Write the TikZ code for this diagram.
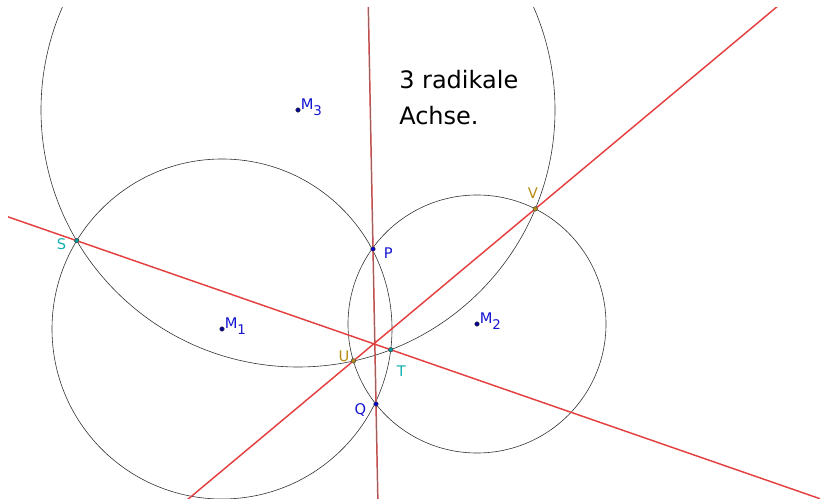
\documentclass[tikz,border=0pt]{standalone}
\usepackage{fontspec}
\setmainfont{DejaVu Sans}
\usepackage{xcolor}
\usepackage{tikz}
\usetikzlibrary{calc}

\definecolor{axisred}{RGB}{228,64,64}
\definecolor{ptblue}{RGB}{0,0,150}
\definecolor{lblblue}{RGB}{20,20,210}
\definecolor{lblteal}{RGB}{20,175,175}
\definecolor{lblgold}{RGB}{184,140,20}

\newcommand{\idx}[1]{\raisebox{-0.4em}{\fontsize{10}{12}\selectfont #1}}

\begin{document}
\begin{tikzpicture}[x=0.75pt, y=-0.75pt,
    circ/.style={draw=black!80, line width=0.45pt},
    axis/.style={draw=axisred, line width=1.1pt},
    pt/.style={circle, inner sep=0pt, minimum size=3.3pt, draw=black!70, line width=0.3pt, fill=#1},
    lbl/.style={inner sep=0pt, font=\fontsize{11}{13}\selectfont, text=#1}]
    \useasboundingbox (0,0) rectangle (824,502);
    \clip (8,8) rectangle (820,498);

    % centres
    \node [pt=ptblue] (M1) at (222,329) {};
    \node [pt=ptblue] (M2) at (477,324) {};
    \node [pt=ptblue] (M3) at (298,110) {};

    % circles
    \draw[circ] (M1) circle [radius=127.5pt];
    \draw[circ] (M2) circle [radius=96.75pt];
    \draw[circ] (M3) circle [radius=192.75pt];

    % intersection points
    \node [pt=blue!80!black] (P) at (373,249) {};
    \node [pt=blue!80!black] (Q) at (376,404) {};
    \node [pt=teal!80!cyan] (S) at (76.7,240.7) {};
    \node [pt=teal!80!cyan] (T) at (390.7,349.7) {};
    \node [pt=lblgold] (U) at (353.4,360.9) {};
    \node [pt=lblgold] (V) at (535.2,208.9) {};

    % radical axes
    \draw[axis] ($(P)!-1.6!(Q)$) -- ($(P)!1.65!(Q)$);
    \draw[black!55, line width=0.4pt] ($(P)!-1.6!(Q)$) -- ($(P)!1.65!(Q)$);
    \draw[axis] ($(S)!-0.25!(T)$) -- ($(S)!2.4!(T)$);
    \draw[axis] ($(U)!-0.95!(V)$) -- ($(U)!2.35!(V)$);

    % redraw points on top
    \node [pt=ptblue] at (M1) {};
    \node [pt=ptblue] at (M2) {};
    \node [pt=ptblue] at (M3) {};
    \node [pt=blue!80!black] at (P) {};
    \node [pt=blue!80!black] at (Q) {};
    \node [pt=teal!80!cyan] at (S) {};
    \node [pt=teal!80!cyan] at (T) {};
    \node [pt=lblgold] at (U) {};
    \node [pt=lblgold] at (V) {};

    % labels
    \node [lbl=lblblue, anchor=base west] (M1l) at (224.5,328.5) {M\idx{1}};
    \node [lbl=lblblue, anchor=base west] (M2l) at (479.5,323.5) {M\idx{2}};
    \node [lbl=lblblue, anchor=base west] (M3l) at (300.5,110) {M\idx{3}};
    \node [lbl=lblblue, anchor=base west] (Pl) at (383.5,258) {P};
    \node [lbl=lblblue, anchor=base east] (Ql) at (366.5,414) {Q};
    \node [lbl=lblteal, anchor=base east] (Sl) at (66.5,249) {S};
    \node [lbl=lblteal, anchor=base west] (Tl) at (396.5,376) {T};
    \node [lbl=lblgold, anchor=base east] (Ul) at (349.5,361) {U};
    \node [lbl=lblgold, anchor=base] (Vl) at (533,199) {V};

    \node [inner sep=0pt, anchor=north west, align=left,
        font=\fontsize{18}{27}\selectfont] (title) at (399,70.5) {3 radikale\\Achse.};
\end{tikzpicture}
\end{document}
